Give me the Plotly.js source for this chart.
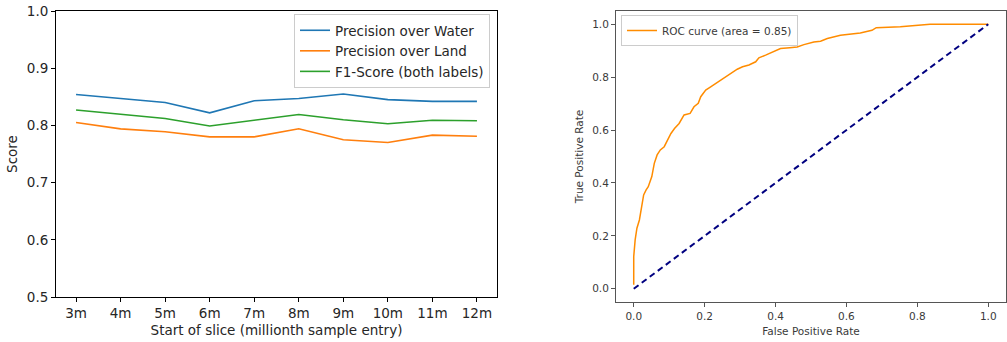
<!DOCTYPE html>
<html>
<head>
<meta charset="utf-8">
<script src="https://cdn.plot.ly/plotly-3.0.1.min.js"></script>
<style>html,body{margin:0;padding:0;background:#fff;}#chart{width:1007px;height:342px;}</style>
</head>
<body>
<div id="chart"></div>
<script>
// Left chart data
const sliceLabels = ["3m","4m","5m","6m","7m","8m","9m","10m","11m","12m"];
const precisionWater = [0.854,0.847,0.840,0.822,0.843,0.847,0.855,0.845,0.842,0.842];
const precisionLand  = [0.805,0.794,0.789,0.780,0.780,0.794,0.775,0.770,0.783,0.781];
const f1Score        = [0.827,0.819,0.812,0.799,0.809,0.819,0.810,0.803,0.809,0.808];

// Right chart data (ROC)
const fpr = [0,0,0.004,0.009,0.016,0.022,0.028,0.035,0.041,0.051,0.058,0.066,0.075,0.086,0.095,0.105,0.115,0.128,0.142,0.159,0.170,0.182,0.189,0.203,0.217,0.232,0.246,0.260,0.274,0.292,0.307,0.325,0.344,0.353,0.372,0.396,0.414,0.440,0.461,0.480,0.508,0.527,0.546,0.583,0.639,0.672,0.684,0.752,0.836,1.0];
const tpr = [0.015,0.122,0.185,0.229,0.26,0.305,0.355,0.374,0.386,0.424,0.474,0.506,0.525,0.537,0.562,0.587,0.606,0.625,0.657,0.663,0.688,0.701,0.726,0.751,0.763,0.776,0.789,0.801,0.814,0.830,0.839,0.846,0.858,0.873,0.883,0.898,0.908,0.911,0.914,0.923,0.933,0.936,0.946,0.958,0.967,0.977,0.987,0.990,1.0,1.0];
const chanceX = [0,1];
const chanceY = [0,1];
const rocLabel = "ROC curve (area = 0.85)";

const idx = sliceLabels.map((_, i) => i);

const traces = [
  {x: idx, y: precisionWater, name: "Precision over Water", mode: "lines", line: {color: "#1f77b4", width: 1.6}, xaxis: "x", yaxis: "y", legend: "legend"},
  {x: idx, y: precisionLand, name: "Precision over Land", mode: "lines", line: {color: "#ff7f0e", width: 1.6}, xaxis: "x", yaxis: "y", legend: "legend"},
  {x: idx, y: f1Score, name: "F1-Score (both labels)", mode: "lines", line: {color: "#2ca02c", width: 1.6}, xaxis: "x", yaxis: "y", legend: "legend"},
  {x: fpr, y: tpr, name: rocLabel, mode: "lines", line: {color: "darkorange", width: 1.5}, xaxis: "x2", yaxis: "y2", legend: "legend2"},
  {x: chanceX, y: chanceY, name: "chance", mode: "lines", line: {color: "navy", width: 2, dash: "6px,4px"}, xaxis: "x2", yaxis: "y2", showlegend: false}
];

const fontL = {family: "DejaVu Sans", size: 13.5, color: "#262626"};
const fontR = {family: "DejaVu Sans", size: 10.5, color: "#3a3a3a"};

const layout = {
  width: 1007, height: 342,
  margin: {l: 0, r: 0, t: 0, b: 0},
  paper_bgcolor: "#fff", plot_bgcolor: "#fff",
  showlegend: true,
  xaxis: {
    domain: [56/1007, 497/1007], anchor: "y",
    range: [-0.45, 9.45],
    tickmode: "array", tickvals: idx, ticktext: sliceLabels,
    showline: true, mirror: true, linecolor: "#000", linewidth: 1,
    ticks: "outside", ticklen: 4, tickcolor: "#000", showgrid: false, zeroline: false,
    tickfont: fontL,
    title: {text: "Start of slice (millionth sample entry)", font: fontL, standoff: 5}
  },
  yaxis: {
    domain: [45/342, 331/342], anchor: "x",
    range: [0.5, 1.0],
    tickvals: [0.5,0.6,0.7,0.8,0.9,1.0], ticktext: ["0.5","0.6","0.7","0.8","0.9","1.0"],
    showline: true, mirror: true, linecolor: "#000", linewidth: 1,
    ticks: "outside", ticklen: 4, tickcolor: "#000", showgrid: false, zeroline: false,
    tickfont: fontL,
    title: {text: "Score", font: fontL, standoff: 6}
  },
  xaxis2: {
    domain: [616/1007, 1006/1007], anchor: "y2",
    range: [-0.05, 1.05],
    tickvals: [0,0.2,0.4,0.6,0.8,1.0], ticktext: ["0.0","0.2","0.4","0.6","0.8","1.0"],
    showline: true, mirror: true, linecolor: "#555", linewidth: 1,
    ticks: "outside", ticklen: 4, tickcolor: "#555", showgrid: false, zeroline: false,
    tickfont: fontR,
    title: {text: "False Positive Rate", font: fontR, standoff: 7}
  },
  yaxis2: {
    domain: [40/342, 331/342], anchor: "x2",
    range: [-0.05, 1.05],
    tickvals: [0,0.2,0.4,0.6,0.8,1.0], ticktext: ["0.0","0.2","0.4","0.6","0.8","1.0"],
    showline: true, mirror: true, linecolor: "#555", linewidth: 1,
    ticks: "outside", ticklen: 4, tickcolor: "#555", showgrid: false, zeroline: false,
    tickfont: fontR,
    title: {text: "True Positive Rate", font: fontR, standoff: 6}
  },
  legend: {
    x: 490/1007, y: 328/342, xanchor: "right", yanchor: "top",
    bgcolor: "rgba(255,255,255,0.8)", bordercolor: "#cccccc", borderwidth: 1,
    font: fontL, itemwidth: 30, tracegroupgap: 0
  },
  legend2: {
    x: 621/1007, y: 327/342, xanchor: "left", yanchor: "top",
    bgcolor: "rgba(255,255,255,0.8)", bordercolor: "#cccccc", borderwidth: 1,
    font: fontR, itemwidth: 30
  }
};

Plotly.newPlot("chart", traces, layout, {displayModeBar: false, staticPlot: true});
</script>
</body>
</html>
